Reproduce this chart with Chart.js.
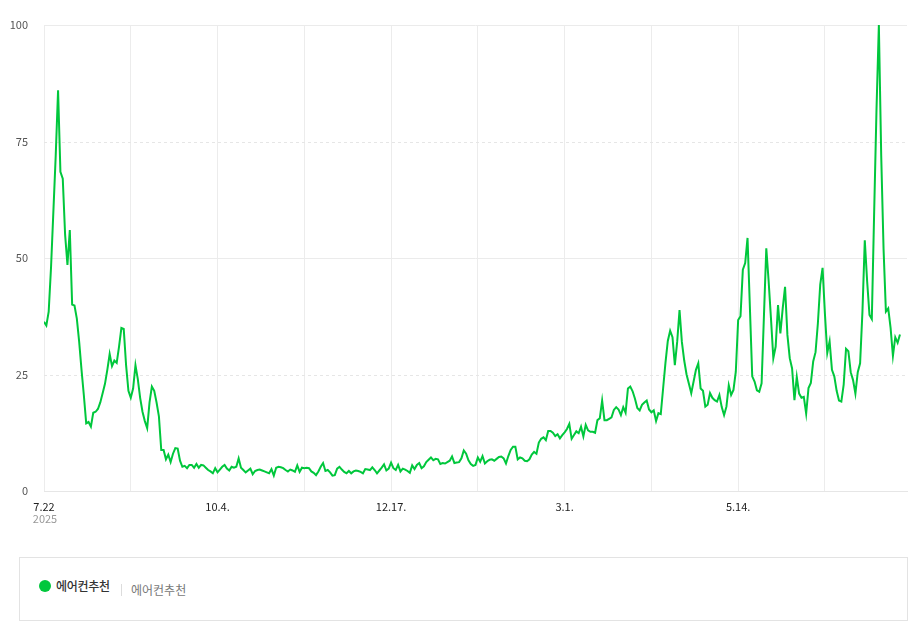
<!DOCTYPE html>
<html>
<head>
<meta charset="utf-8">
<script src="https://cdn.jsdelivr.net/npm/chart.js@4.4.1/dist/chart.umd.min.js"></script>
<style>
    body { margin: 0; background: #fff; font-family: "Noto Sans CJK KR", sans-serif; }
    #wrap { position: absolute; left: 0; top: 0; width: 909px; height: 545px; }
    .legend {
        position: absolute; left: 19px; top: 557px; width: 887px; height: 62px;
        border: 1px solid #e3e3e3; box-sizing: content-box;
    }
    .legend .dot {
        position: absolute; left: 19px; top: 22px; width: 12px; height: 12px;
        border-radius: 50%; background: #00c73c;
    }
    .legend .name {
        position: absolute; left: 36px; top: 19px; font-size: 12px; color: #333;
        font-weight: 500; letter-spacing: -0.3px;
    }
    .legend .sep {
        position: absolute; left: 101px; top: 26px; width: 1px; height: 12px; background: #dcdcdc;
    }
    .legend .kw {
        position: absolute; left: 111px; top: 23px; font-size: 12px; color: #777;
    }
</style>
</head>
<body>
<div id="wrap"><canvas id="trendchart"></canvas></div>
<div class="legend">
    <span class="dot"></span>
    <span class="name" id="groupName"></span>
    <span class="sep"></span>
    <span class="kw" id="keywordName"></span>
</div>
<script>
// 검색어 그룹 / 키워드
const groupName = "에어컨추천";
const keywords = ["에어컨추천"];

// x축 라벨 (74일 간격), 첫 라벨 아래 연도
const xTickLabels = ["7.22", "10.4.", "12.17.", "3.1.", "5.14."];
const firstYear = "2025";
const yTickValues = [0, 25, 50, 75, 100];

// 일별 검색량 지수 (2025.7.22 ~ 366일)
const ratios = [
    36.3, 35.5, 38.5, 48, 60, 72, 86, 68.5, 67, 55,
    48.5, 56, 40, 39.8, 37, 32, 26, 20.5, 14.5, 14.8,
    13.8, 16.8, 17, 17.6, 19, 21, 23, 26, 29.4, 26.8,
    28, 27.5, 31, 35, 34.8, 27, 21.5, 20, 22, 27,
    24, 20, 17, 15, 13.5, 19, 22.4, 21.5, 19, 16,
    8.8, 8.8, 6.8, 7.8, 6.2, 8, 9.2, 9.1, 6.5, 5.2,
    5.4, 4.9, 5.6, 5.6, 5.0, 5.8, 5.0, 5.6, 5.5, 5.0,
    4.5, 4.2, 3.8, 4.9, 4.0, 4.6, 5.2, 5.6, 4.8, 4.4,
    5.2, 5.0, 5.2, 7.0, 5.0, 4.5, 4.0, 4.4, 4.8, 3.6,
    4.3, 4.5, 4.6, 4.4, 4.2, 4.0, 3.8, 4.7, 3.3, 5.0,
    5.2, 5.1, 4.9, 4.5, 4.2, 4.6, 4.4, 4.1, 5.5, 4.1,
    5.0, 4.9, 5.0, 4.9, 4.2, 3.9, 3.4, 4.2, 5.2, 6.0,
    4.3, 4.5, 4.0, 3.3, 3.4, 4.8, 5.2, 4.6, 4.1, 3.8,
    4.3, 3.8, 4.2, 4.4, 4.3, 4.1, 3.8, 4.7, 4.6, 4.5,
    5.1, 4.5, 3.8, 4.4, 5.0, 5.7, 4.4, 4.8, 6.1, 4.9,
    4.5, 5.6, 4.2, 4.8, 4.6, 4.3, 3.9, 5.5, 4.7, 5.6,
    6.0, 4.9, 5.3, 6.2, 6.7, 7.2, 6.6, 6.9, 6.8, 5.8,
    6.0, 5.9, 6.2, 6.5, 7.4, 6.0, 6.1, 6.2, 7.0, 8.7,
    8.0, 6.6, 5.8, 5.4, 5.6, 7.2, 6.3, 7.5, 5.9, 6.4,
    6.7, 6.8, 6.5, 6.9, 7.3, 7.4, 7.0, 5.9, 7.5, 8.8,
    9.5, 9.5, 6.8, 7.2, 7.0, 6.5, 6.4, 6.8, 7.8, 8.4,
    8.0, 10.4, 11.2, 11.5, 10.9, 12.9, 12.9, 12.5, 11.8, 12.2,
    11.3, 12.0, 12.6, 13.3, 14.4, 11.2, 12.0, 12.8, 12.4, 13.8,
    11.7, 14.2, 13.0, 12.7, 12.7, 12.5, 15.2, 15.6, 19.4, 15.2,
    15.2, 15.5, 15.8, 17.4, 18.0, 17.5, 16.3, 18.0, 16.8, 22.0,
    22.4, 21.4, 19.8, 17.8, 17.3, 18.5, 19.0, 19.4, 17.5, 16.9,
    17.3, 15.0, 16.7, 16.5, 22.0, 27.5, 32.2, 34.4, 33.0, 27.0,
    32.0, 38.8, 32.0, 28.0, 25.0, 23.0, 21.0, 23.5, 26.0, 27.4,
    22.0, 21.5, 18.1, 18.5, 21.0, 20.0, 19.5, 19.2, 20.6, 18.0,
    16.3, 18.1, 22.7, 20.6, 21.7, 25.6, 36.7, 37.5, 47.5, 48.9,
    54.3, 39.5, 24.6, 23.5, 21.6, 21.3, 23.1, 37.6, 52.1, 45,
    37, 28.5, 31, 39.9, 33.8, 39.2, 43.8, 33.5, 28.5, 26.3,
    19.5, 24.5, 20.9, 20.0, 20.2, 16.6, 22.1, 23.2, 27.8, 29.8,
    36, 44.3, 47.9, 38, 29.6, 32.1, 26.0, 24.6, 21.5, 19.4,
    19.2, 22.8, 30.5, 30.0, 25.5, 23.8, 20.9, 25.5, 27.4, 38.5,
    53.8, 45, 37.8, 36.9, 60, 82, 100, 72, 52, 38.5,
    39.2, 35, 29.0, 33, 31.8, 33.6
];

const labelStep = 74; // 라벨 간격(일)
const gridStep = 37;  // 세로 격자 간격(일)

document.getElementById("groupName").textContent = groupName;
document.getElementById("keywordName").textContent = keywords.join(", ");

// 25, 75 점선 + 첫 라벨 아래 연도
const extraLines = {
    id: "extraLines",
    beforeDatasetsDraw(chart) {
        const { ctx, chartArea, scales } = chart;
        ctx.save();
        ctx.strokeStyle = "#e6e6e6";
        ctx.lineWidth = 1;
        ctx.setLineDash([3, 3]);
        [25, 75].forEach((v) => {
            const y = Math.round(scales.y.getPixelForValue(v)) + 0.5;
            ctx.beginPath();
            ctx.moveTo(chartArea.left, y);
            ctx.lineTo(chartArea.right, y);
            ctx.stroke();
        });
        ctx.restore();
    },
    afterDraw(chart) {
        const { ctx, scales } = chart;
        ctx.save();
        ctx.fillStyle = "#999";
        ctx.font = "11px 'Noto Sans CJK KR', sans-serif";
        ctx.textAlign = "center";
        ctx.textBaseline = "middle";
        ctx.fillText(firstYear, scales.x.getPixelForValue(0) + 1, 519);
        ctx.restore();
    },
};

const ctx = document.getElementById("trendchart").getContext("2d");
new Chart(ctx, {
    type: "line",
    data: {
        datasets: [
            {
                label: groupName,
                data: ratios.map((v, i) => ({ x: i, y: v })),
                borderColor: "#00c73c",
                borderWidth: 2,
                pointRadius: 0,
                tension: 0,
                fill: false,
            },
        ],
    },
    options: {
        responsive: true,
        maintainAspectRatio: false,
        animation: false,
        layout: { autoPadding: false, padding: { top: 25, right: 2, left: 0, bottom: 0 } },
        plugins: { legend: { display: false }, tooltip: { enabled: false } },
        scales: {
            x: {
                type: "linear",
                min: 0,
                max: 368,
                afterBuildTicks(scale) {
                    const ticks = [];
                    for (let v = 0; v < 368; v += gridStep) ticks.push({ value: v });
                    scale.ticks = ticks;
                },
                afterFit(scale) { scale.height = 54; },
                grid: { color: "#ececec", drawTicks: false },
                border: { color: "#e6e6e6" },
                ticks: {
                    autoSkip: false,
                    maxRotation: 0,
                    padding: 9,
                    color: "#222",
                    font: { size: 11, family: "'Noto Sans CJK KR', sans-serif" },
                    callback: (v) => (v % labelStep === 0 ? xTickLabels[v / labelStep] : ""),
                },
            },
            y: {
                min: 0,
                max: 100,
                afterBuildTicks(scale) {
                    scale.ticks = yTickValues.map((v) => ({ value: v }));
                },
                afterFit(scale) { scale.width = 44; },
                grid: {
                    drawTicks: false,
                    color: (c) => (c.tick && c.tick.value % 50 === 0 ? "#ebebeb" : "rgba(0,0,0,0)"),
                },
                border: { display: false },
                ticks: {
                    padding: 16,
                    color: "#555",
                    font: { size: 11, family: "'Noto Sans CJK KR', sans-serif" },
                },
            },
        },
    },
    plugins: [extraLines],
});
</script>
</body>
</html>
